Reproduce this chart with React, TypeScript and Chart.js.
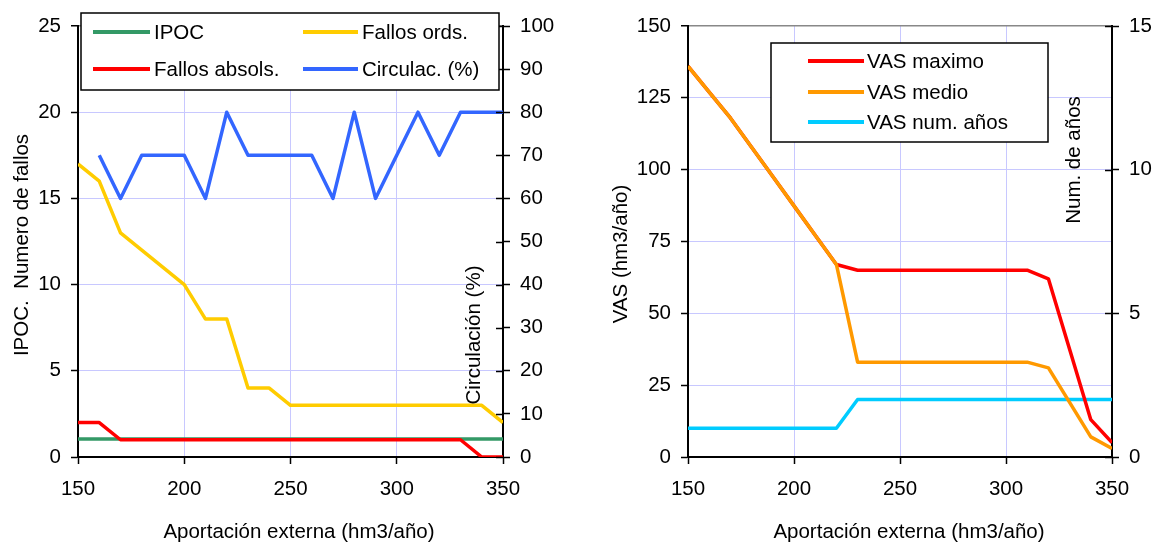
import React, { useEffect, useRef } from "react";
import { Chart, registerables } from "chart.js";

Chart.register(...registerables);

// ---------- DATA ----------
const aportacion = [150, 160, 170, 180, 190, 200, 210, 220, 230, 240, 250, 260, 270, 280, 290, 300, 310, 320, 330, 340, 350];

const ipoc = [1.05, 1.05, 1.05, 1.05, 1.05, 1.05, 1.05, 1.05, 1.05, 1.05, 1.05, 1.05, 1.05, 1.05, 1.05, 1.05, 1.05, 1.05, 1.05, 1.05, 1.05];
const fallosOrds = [17, 16, 13, 12, 11, 10, 8, 8, 4, 4, 3, 3, 3, 3, 3, 3, 3, 3, 3, 3, 2];
const fallosAbsols = [2, 2, 1, 1, 1, 1, 1, 1, 1, 1, 1, 1, 1, 1, 1, 1, 1, 1, 1, 0, 0];
const circulac: (number | null)[] = [null, 70, 60, 70, 70, 70, 60, 80, 70, 70, 70, 70, 60, 80, 60, 70, 80, 70, 80, 80, 80];

const vasMaximo = [136, 127, 118, 107.8, 97.6, 87.4, 77.2, 67, 65, 65, 65, 65, 65, 65, 65, 65, 65, 62, 37.5, 13, 5];
const vasMedio = [136, 127, 118, 107.8, 97.6, 87.4, 77.2, 67, 33, 33, 33, 33, 33, 33, 33, 33, 33, 31, 19, 7, 3];
const vasNumAnos = [1, 1, 1, 1, 1, 1, 1, 1, 2, 2, 2, 2, 2, 2, 2, 2, 2, 2, 2, 2, 2];

const leftTitles = {
  y: "IPOC.  Numero de fallos",
  y1: "Circulación (%)",
  x: "Aportación externa (hm3/año)",
};
const rightTitles = {
  y: "VAS (hm3/año)",
  y1: "Num. de años",
  x: "Aportación externa (hm3/año)",
};

const leftLegend = ["IPOC", "Fallos ords.", "Fallos absols.", "Circulac. (%)"];
const rightLegend = ["VAS maximo", "VAS medio", "VAS num. años"];

// ---------- STYLE ----------
const FONT = "Liberation Sans, Arial, sans-serif";
const FS = 20.5;
const LAV = "#c8c8ff";
const C_GREEN = "#339966";
const C_YELLOW = "#ffcc00";
const C_RED = "#ff0000";
const C_BLUE = "#3366ff";
const C_ORANGE = "#ff9900";
const C_CYAN = "#00ccff";
const LW = 3.5;

const pts = (ys: (number | null)[]) => aportacion.map((x, i) => ({ x, y: ys[i] }));

type TitleItem = { text: string; x: number; y: number; rot: number };
type LegendItem = { text: string; color: string; x1: number; x2: number; tx: number; y: number };
type LegendBox = { x: number; y: number; w: number; h: number; items: LegendItem[] };

function makePlugin(titles: TitleItem[], legend: LegendBox) {
  return {
    id: "custom",
    afterDraw(chart: any) {
      const ctx = chart.ctx as CanvasRenderingContext2D;
      const ca = chart.chartArea;
      // crossing ticks on the right axis
      const y1 = chart.scales.y1;
      ctx.save();
      ctx.strokeStyle = "#000";
      ctx.lineWidth = 1.5;
      y1.ticks.forEach((t: any) => {
        const py = Math.round(y1.getPixelForValue(t.value)) + 0.5;
        ctx.beginPath();
        ctx.moveTo(ca.right - 7, py);
        ctx.lineTo(ca.right, py);
        ctx.stroke();
      });
      ctx.restore();

      // titles
      ctx.save();
      ctx.fillStyle = "#000";
      ctx.font = `${FS}px ${FONT}`;
      ctx.textAlign = "center";
      ctx.textBaseline = "middle";
      titles.forEach((t) => {
        ctx.save();
        ctx.translate(t.x, t.y);
        ctx.rotate(t.rot);
        ctx.fillText(t.text, 0, 0);
        ctx.restore();
      });
      ctx.restore();

      // legend
      ctx.save();
      ctx.fillStyle = "#fff";
      ctx.fillRect(legend.x, legend.y, legend.w, legend.h);
      ctx.strokeStyle = "#000";
      ctx.lineWidth = 1.5;
      ctx.strokeRect(legend.x, legend.y, legend.w, legend.h);
      ctx.font = `${FS}px ${FONT}`;
      ctx.textBaseline = "middle";
      ctx.textAlign = "left";
      legend.items.forEach((it) => {
        ctx.strokeStyle = it.color;
        ctx.lineWidth = 4;
        ctx.beginPath();
        ctx.moveTo(it.x1, it.y);
        ctx.lineTo(it.x2, it.y);
        ctx.stroke();
        ctx.fillStyle = "#000";
        ctx.fillText(it.text, it.tx, it.y + 1);
      });
      ctx.restore();
    },
  };
}

function scaleX(height: number) {
  return {
    type: "linear",
    min: 150,
    max: 350,
    ticks: { stepSize: 50, padding: 13, color: "#000", font: { family: FONT, size: FS } },
    grid: {
      color: (c: any) => (c.tick && (c.tick.value === 150 || c.tick.value === 350) ? "rgba(0,0,0,0)" : LAV),
      tickColor: "#000",
      tickLength: 7,
      tickWidth: 1.5,
      lineWidth: 1,
    },
    border: { color: "#000", width: 2 },
    afterFit: (s: any) => {
      s.height = height;
    },
  };
}

function scaleY(max: number, step: number, width: number) {
  return {
    position: "left",
    min: 0,
    max,
    ticks: { stepSize: step, padding: 10, color: "#000", font: { family: FONT, size: FS } },
    grid: {
      color: (c: any) => {
        const v = c.tick ? c.tick.value : -1;
        if (v === 0) return "rgba(0,0,0,0)";
        if (v === max) return "#888888";
        return LAV;
      },
      tickColor: "#000",
      tickLength: 7,
      tickWidth: 1.5,
      lineWidth: (c: any) => (c.tick && c.tick.value === max ? 1.5 : 1),
    },
    border: { color: "#000", width: 2 },
    afterFit: (s: any) => {
      s.width = width;
    },
  };
}

function scaleY1(max: number, step: number, width: number) {
  return {
    position: "right",
    min: 0,
    max,
    ticks: { stepSize: step, padding: 10, color: "#000", font: { family: FONT, size: FS } },
    grid: { drawOnChartArea: false, color: "#000", tickColor: "#000", tickLength: 7, tickWidth: 1.5 },
    border: { color: "#000", width: 2 },
    afterFit: (s: any) => {
      s.width = width;
    },
  };
}

const lineDs = (label: string, data: (number | null)[], color: string, yAxisID: string) => ({
  label,
  data: pts(data),
  borderColor: color,
  backgroundColor: color,
  borderWidth: LW,
  pointRadius: 0,
  tension: 0,
  fill: false,
  spanGaps: false,
  borderJoinStyle: "round",
  borderCapStyle: "butt",
  yAxisID,
});

const LEFT_OFF = 0;
const RIGHT_OFF = 577;

function leftConfig(): any {
  const titles: TitleItem[] = [
    { text: leftTitles.y, x: 22 - LEFT_OFF, y: 245, rot: -Math.PI / 2 },
    { text: leftTitles.y1, x: 474 - LEFT_OFF, y: 335, rot: -Math.PI / 2 },
    { text: leftTitles.x, x: 299 - LEFT_OFF, y: 532, rot: 0 },
  ];
  const legend: LegendBox = {
    x: 81,
    y: 13,
    w: 418,
    h: 77,
    items: [
      { text: leftLegend[0], color: C_GREEN, x1: 93, x2: 150, tx: 154, y: 32 },
      { text: leftLegend[1], color: C_YELLOW, x1: 303, x2: 358, tx: 362, y: 32 },
      { text: leftLegend[2], color: C_RED, x1: 93, x2: 150, tx: 154, y: 69 },
      { text: leftLegend[3], color: C_BLUE, x1: 303, x2: 358, tx: 362, y: 69 },
    ],
  };
  return {
    type: "line",
    data: {
      datasets: [
        lineDs(leftLegend[2], fallosAbsols, C_RED, "y"),
        lineDs(leftLegend[0], ipoc, C_GREEN, "y"),
        lineDs(leftLegend[1], fallosOrds, C_YELLOW, "y"),
        lineDs(leftLegend[3], circulac, C_BLUE, "y1"),
      ],
    },
    options: {
      responsive: false,
      animation: false,
      devicePixelRatio: 1,
      layout: { padding: { top: 26, left: 0, right: 0, bottom: 0 } },
      plugins: { legend: { display: false }, tooltip: { enabled: false } },
      scales: {
        x: scaleX(87),
        y: scaleY(25, 5, 78),
        y1: scaleY1(100, 10, 577 - 503),
      },
    },
    plugins: [makePlugin(titles, legend)],
  };
}

function rightConfig(): any {
  const o = RIGHT_OFF;
  const titles: TitleItem[] = [
    { text: rightTitles.y, x: 621 - o, y: 254, rot: -Math.PI / 2 },
    { text: rightTitles.y1, x: 1074 - o, y: 160, rot: -Math.PI / 2 },
    { text: rightTitles.x, x: 909 - o, y: 532, rot: 0 },
  ];
  const legend: LegendBox = {
    x: 771 - o,
    y: 43,
    w: 277,
    h: 99,
    items: [
      { text: rightLegend[0], color: C_RED, x1: 808 - o, x2: 864 - o, tx: 867 - o, y: 61 },
      { text: rightLegend[1], color: C_ORANGE, x1: 808 - o, x2: 864 - o, tx: 867 - o, y: 92 },
      { text: rightLegend[2], color: C_CYAN, x1: 808 - o, x2: 864 - o, tx: 867 - o, y: 122 },
    ],
  };
  return {
    type: "line",
    data: {
      datasets: [
        lineDs(rightLegend[1], vasMedio, C_ORANGE, "y"),
        lineDs(rightLegend[0], vasMaximo, C_RED, "y"),
        lineDs(rightLegend[2], vasNumAnos, C_CYAN, "y1"),
      ],
    },
    options: {
      responsive: false,
      animation: false,
      devicePixelRatio: 1,
      layout: { padding: { top: 26, left: 0, right: 0, bottom: 0 } },
      plugins: { legend: { display: false }, tooltip: { enabled: false } },
      scales: {
        x: scaleX(87),
        y: scaleY(150, 25, 688 - o),
        y1: scaleY1(15, 5, 1155 - 1112),
      },
    },
    plugins: [makePlugin(titles, legend)],
  };
}

export default function App() {
  const leftRef = useRef<HTMLCanvasElement | null>(null);
  const rightRef = useRef<HTMLCanvasElement | null>(null);

  useEffect(() => {
    Chart.defaults.font.family = FONT;
    Chart.defaults.font.size = FS;
    const c1 = new Chart(leftRef.current as HTMLCanvasElement, leftConfig());
    const c2 = new Chart(rightRef.current as HTMLCanvasElement, rightConfig());
    return () => {
      c1.destroy();
      c2.destroy();
    };
  }, []);

  return (
    <div style={{ position: "absolute", left: 0, top: 0, width: 1155, height: 544, background: "#fff" }}>
      <canvas
        ref={leftRef}
        width={RIGHT_OFF}
        height={544}
        style={{ position: "absolute", left: 0, top: 0, width: RIGHT_OFF, height: 544 }}
      />
      <canvas
        ref={rightRef}
        width={1155 - RIGHT_OFF}
        height={544}
        style={{ position: "absolute", left: RIGHT_OFF, top: 0, width: 1155 - RIGHT_OFF, height: 544 }}
      />
    </div>
  );
}
